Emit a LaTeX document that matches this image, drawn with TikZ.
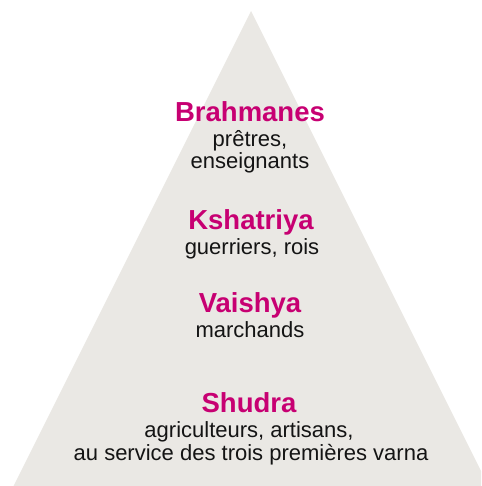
\documentclass[tikz,border=0pt]{standalone}
\usepackage{fontspec}
\setmainfont{Liberation Sans}
\definecolor{pyrfill}{RGB}{234,232,228}
\definecolor{varna}{RGB}{199,0,114}
\definecolor{bodytxt}{RGB}{20,20,20}
\tikzset{
  title/.style={anchor=base, inner sep=0pt, text=varna, font=\fontsize{27.5}{31}\selectfont\bfseries},
  desc/.style={anchor=base, inner sep=0pt, text=bodytxt, font=\fontsize{22}{25}\selectfont}
}
\begin{document}
\begin{tikzpicture}[x=1pt,y=1pt]
\useasboundingbox (0,0) rectangle (481,486);
\begin{scope}
\clip (0,0) rectangle (481,486);
\fill[pyrfill] (251,475) -- (488.5,0) -- (13.5,0) -- cycle;
\end{scope}
\node[title] (brah) at (250,486-122) {Brahmanes};
\node[desc] (brah1) at (250,486-147) {prêtres,};
\node[desc] (brah2) at (250,486-169) {enseignants};
\node[title] (ksha) at (251,486-230) {Kshatriya};
\node[desc] (ksha1) at (252,486-255) {guerriers, rois};
\node[title] (vais) at (250,486-313) {Vaishya};
\node[desc] (vais1) at (250,486-338) {marchands};
\node[title] (shud) at (249,486-413) {Shudra};
\node[desc] (shud1) at (249,486-438) {agriculteurs, artisans,};
\node[desc] (shud2) at (251,486-461) {au service des trois premières varna};
\end{tikzpicture}
\end{document}
